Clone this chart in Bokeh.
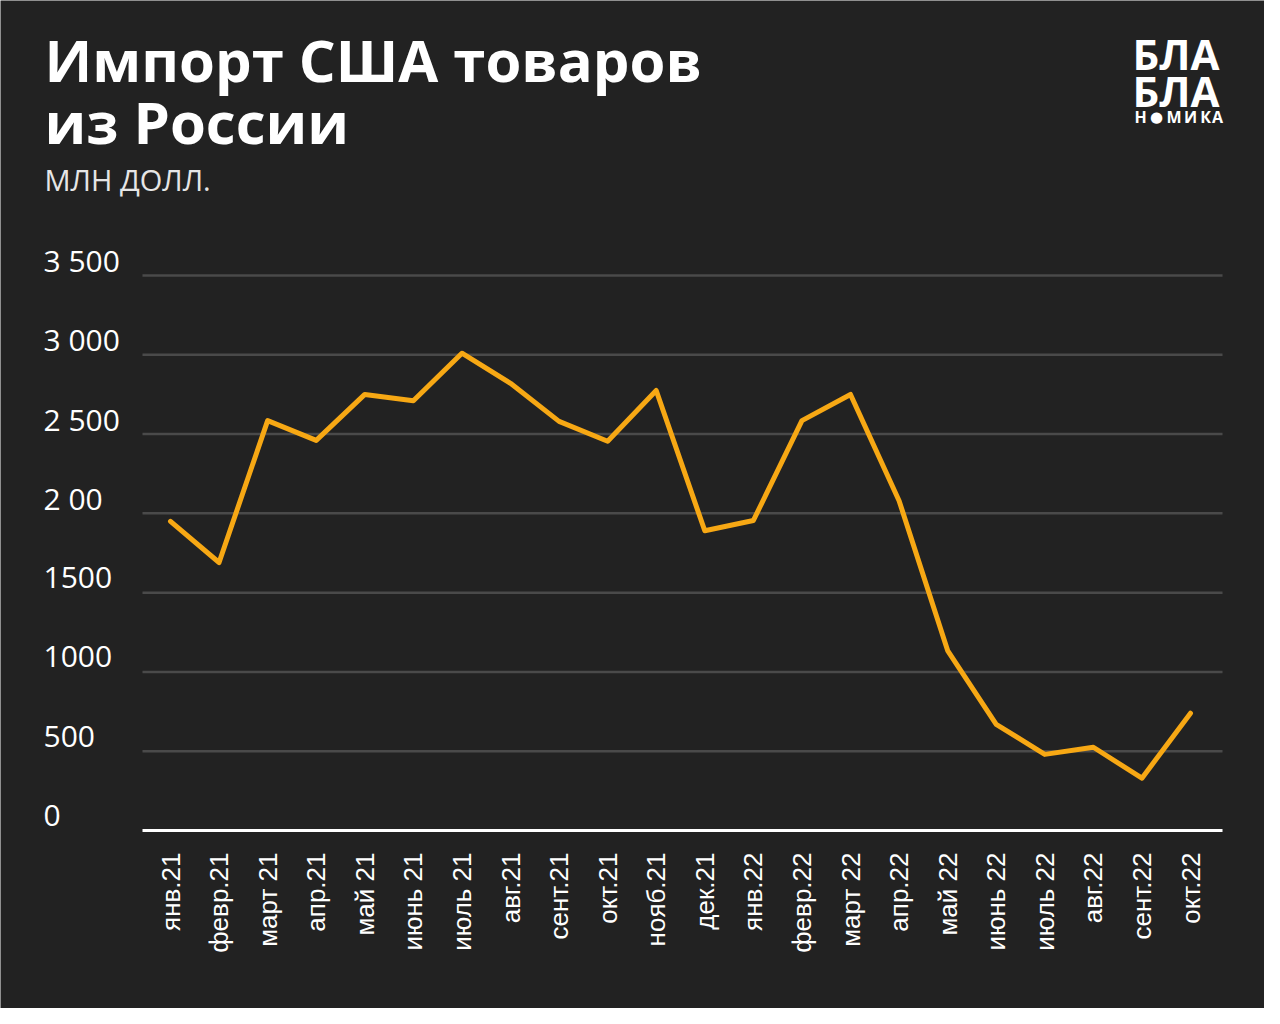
import math
from bokeh.plotting import figure
from bokeh.models import Range1d
from bokeh.core.properties import value
from bokeh.embed import file_html
from bokeh.resources import INLINE

months = ["янв.21", "февр.21", "март 21", "апр.21", "май 21", "июнь 21", "июль 21",
          "авг.21", "сент.21", "окт.21", "нояб.21", "дек.21", "янв.22", "февр.22",
          "март 22", "апр.22", "май 22", "июнь 22", "июль 22", "авг.22", "сент.22", "окт.22"]
imports = [1950, 1690, 2585, 2460, 2750, 2710, 3010, 2820, 2580, 2455, 2775,
           1890, 1955, 2585, 2750, 2080, 1135, 670, 480, 525, 330, 740]
y_ticks = [0, 500, 1000, 1500, 2000, 2500, 3000, 3500]
y_tick_labels = ["0", "500", "1000", "1500", "2 00", "2 500", "3 000", "3 500"]

title_lines = ["Импорт США товаров", "из России"]
subtitle = "МЛН ДОЛЛ."
logo_lines = ["БЛА", "БЛА"]
logo_letters = ["Н", "М", "И", "К", "А"]
logo_dot = "●"

BG = "#222222"
LINE = "#F7A814"
GRID = "#4a4a4a"
W, H = 1264, 1008

# layout in canvas pixels
SX = 1020 / 21          # px per month
SY = 555 / 3500         # px per million dollars
X0_PX = 170             # canvas x of the first month
Y0_PX = 830             # canvas y of value 0


def dx(px):
    return (px - X0_PX) / SX


def dy(py):
    return (Y0_PX - py) / SY


p = figure(width=W, height=H, output_backend="svg", toolbar_location=None,
           x_range=Range1d(-X0_PX / SX, (W - X0_PX) / SX),
           y_range=Range1d((Y0_PX - H) / SY, Y0_PX / SY),
           min_border=0, min_border_left=0, min_border_right=0,
           min_border_top=0, min_border_bottom=0,
           background_fill_color=BG, border_fill_color=BG)
p.outline_line_color = None
p.axis.visible = False
p.grid.visible = False

n = len(y_ticks) - 1
p.segment(x0=[dx(142)] * n, x1=[dx(1222)] * n, y0=y_ticks[1:], y1=y_ticks[1:],
          line_color=GRID, line_width=2.5)
p.segment(x0=[dx(142)], x1=[dx(1222)], y0=[0], y1=[0], line_color="white", line_width=3)

x_idx = list(range(len(months)))
p.line(x_idx, imports, line_color=LINE, line_width=5, line_join="round", line_cap="round")

# month labels, vertical
p.text(x=x_idx, y=[dy(852)] * len(months), text=months, angle=math.pi / 2,
       text_align="right", text_baseline="middle", text_color="white",
       text_font=value("Liberation Sans"), text_font_size="26px")

# value labels, sitting on their grid lines
p.text(x=[dx(43)] * len(y_ticks), y=y_ticks, text=y_tick_labels, y_offset=-15,
       text_align="left", text_baseline="middle", text_color="white",
       text_font=value("Open Sans"), text_font_size="30px")

p.text(x=[dx(44)] * 2, y=[dy(59), dy(121)], text=title_lines,
       text_align="left", text_baseline="middle", text_color="white",
       text_font=value("Open Sans"), text_font_style="bold", text_font_size="58px")
p.text(x=[dx(44)], y=[dy(179)], text=[subtitle],
       text_align="left", text_baseline="middle", text_color="#e6e6e6",
       text_font=value("Open Sans"), text_font_size="29px")

# logo
p.text(x=[dx(1132)] * 2, y=[dy(53), dy(90)], text=logo_lines,
       text_align="left", text_baseline="middle", text_color="white",
       text_font=value("Open Sans"), text_font_style="bold", text_font_size="42px")
p.text(x=[dx(c) for c in [1140, 1173.5, 1190, 1205, 1217]], y=[dy(116)] * len(logo_letters),
       text=logo_letters, text_align="center", text_baseline="middle", text_color="white",
       text_font=value("Open Sans"), text_font_style="bold", text_font_size="16px")
p.text(x=[dx(1156)], y=[dy(116)], text=[logo_dot], text_align="center", text_baseline="middle",
       text_color="white", text_font=value("DejaVu Sans"), text_font_size="15px")

html = file_html(p, INLINE)
html = html.replace("<body", '<body style="background-color:#222222;"', 1)
open("out.html", "w").write(html)
